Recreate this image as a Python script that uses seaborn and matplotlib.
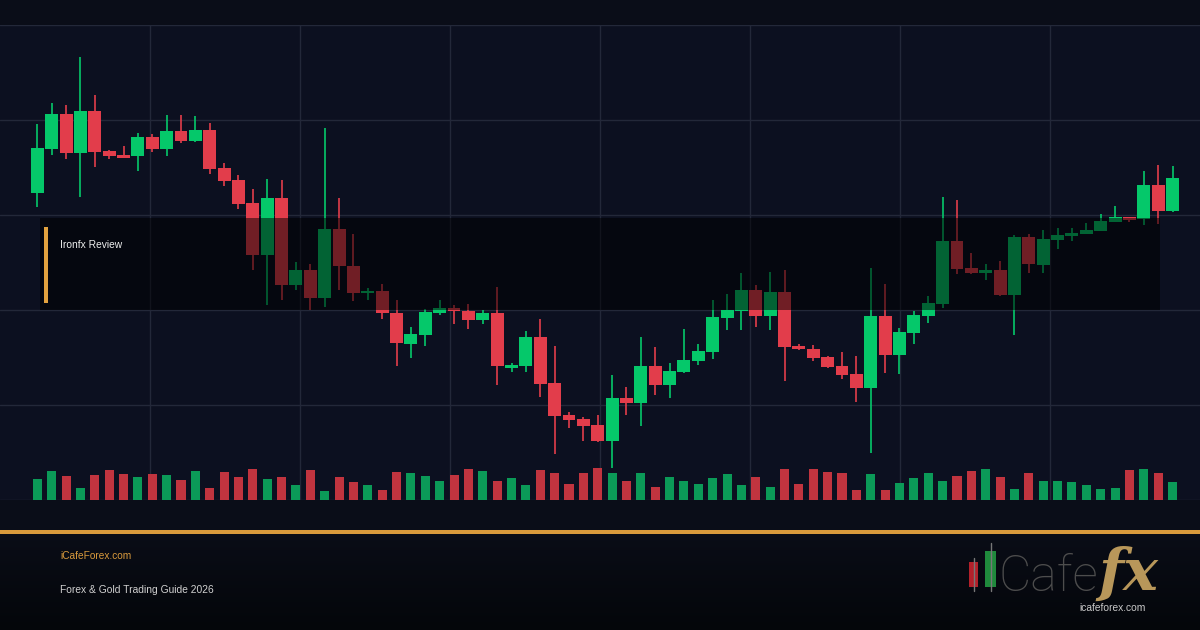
import numpy as np
import matplotlib
matplotlib.use("Agg")
import matplotlib.pyplot as plt
from matplotlib.patches import Rectangle
import seaborn as sns

# OHLC price levels (chart units, 0 = volume baseline)
opens = [307, 351, 386, 347, 389, 349, 345, 344, 363, 351, 369, 359, 370, 332, 320, 297,
         245, 302, 215, 230, 202, 271, 234, 207, 209, 187, 156, 165, 187, 192, 189, 180,
         187, 132, 134, 163, 117, 85, 81, 75, 59, 102, 97, 134, 115, 128, 139, 148,
         182, 189, 210, 184, 208, 154, 151, 143, 134, 126, 112, 184, 145, 167, 184, 196,
         259, 232, 227, 230, 205, 263, 235, 260, 264, 266, 269, 278, 283, 281, 315, 289]
highs = [376, 397, 395, 443, 405, 350, 354, 367, 366, 385, 385, 384, 377, 337, 325, 311,
         321, 320, 238, 236, 372, 302, 266, 212, 216, 200, 173, 191, 200, 195, 196, 190,
         213, 137, 169, 181, 154, 88, 83, 85, 125, 113, 163, 153, 137, 171, 156, 200,
         206, 227, 215, 228, 230, 156, 155, 144, 148, 144, 232, 216, 172, 189, 204, 303,
         300, 247, 236, 239, 265, 266, 270, 272, 272, 277, 286, 294, 283, 329, 335, 334]
lows = [293, 345, 341, 303, 333, 341, 342, 329, 348, 344, 357, 358, 326, 314, 291, 230,
        195, 200, 210, 190, 193, 210, 199, 200, 181, 134, 142, 154, 185, 176, 171, 176,
        115, 128, 128, 103, 46, 72, 59, 58, 32, 85, 74, 105, 102, 127, 135, 141,
        170, 170, 173, 170, 119, 150, 139, 132, 121, 98, 47, 127, 126, 156, 177, 192,
        226, 226, 220, 204, 165, 227, 227, 251, 259, 266, 269, 278, 278, 275, 276, 288]
closes = [352, 386, 347, 389, 348, 344, 342, 363, 351, 369, 359, 370, 331, 319, 296, 245,
          302, 215, 230, 202, 271, 234, 207, 209, 187, 157, 166, 188, 192, 189, 180, 187,
          134, 135, 163, 116, 84, 80, 74, 59, 102, 97, 134, 115, 129, 140, 149, 183,
          190, 210, 184, 208, 153, 151, 142, 133, 125, 112, 184, 145, 168, 185, 197, 259,
          231, 227, 230, 205, 263, 236, 261, 265, 267, 270, 279, 283, 280, 315, 289, 322]
volumes = [21, 29, 24, 12, 25, 30, 26, 23, 26, 25, 20, 29, 12, 28, 23, 31, 21, 23, 15, 30,
           9, 23, 18, 15, 10, 28, 27, 24, 19, 25, 31, 29, 19, 22, 15, 30, 27, 16, 27, 32,
           27, 19, 27, 13, 23, 19, 16, 22, 26, 15, 23, 13, 31, 16, 31, 28, 27, 10, 26, 10,
           17, 22, 27, 19, 24, 29, 31, 23, 11, 27, 19, 19, 18, 15, 11, 12, 30, 31, 27, 18]

title = "Ironfx Review"
site = "iCafeForex.com"
subtitle = "Forex & Gold Trading Guide 2026"

W, H = 1200, 630
BG = "#0a0d18"
PANEL = "#0c1020"
GRID = "#232839"
UP, DOWN = "#05c86a", "#e23d4b"
VUP, VDOWN = "#0b9a58", "#c1343f"
GOLD = "#d99a3c"

sns.set_theme(style="dark")
plt.rcParams["font.family"] = ["Liberation Sans", "DejaVu Sans"]

n = len(opens)
idx = np.arange(n)
direction = ["up" if c >= o else "down" for o, c in zip(opens, closes)]

fig = plt.figure(figsize=(W / 100, H / 100), dpi=100, facecolor=BG)


def fx(px):
    return px / W


def fy(py):
    return 1 - py / H


# footer gradient
foot = fig.add_axes([0, 0, 1, fy(533)])
foot.imshow(np.linspace(0, 1, 100).reshape(-1, 1), aspect="auto", extent=(0, 1, 0, 1),
            cmap=matplotlib.colors.LinearSegmentedColormap.from_list("f", ["#0a0d17", "#04060a"]))
foot.axis("off")

# grid panel
panel_rect = [0, fy(500), 1, (500 - 25) / H]
grid_ax = fig.add_axes(panel_rect)
grid_ax.set_facecolor(PANEL)
grid_ax.set_xlim(0, 8)
grid_ax.set_ylim(0, 5)
grid_ax.set_xticks(range(1, 8))
grid_ax.set_yticks(range(6))
grid_ax.grid(True, color=GRID, lw=1)
grid_ax.tick_params(length=0, labelbottom=False, labelleft=False)
for s in grid_ax.spines.values():
    s.set_visible(False)

# candles + volume
ax = fig.add_axes(panel_rect)
ax.set_facecolor("none")
sns.barplot(x=idx, y=volumes, hue=direction, palette={"up": VUP, "down": VDOWN},
            width=0.63, dodge=False, legend=False, saturation=1, linewidth=0, ax=ax)
colors = [UP if d == "up" else DOWN for d in direction]
ax.vlines(idx, lows, highs, colors=colors, lw=1.2, zorder=3)
bottoms = np.minimum(opens, closes)
heights = np.maximum(np.abs(np.array(closes) - np.array(opens)), 1.5)
ax.bar(idx, heights, bottom=bottoms, width=0.9, color=colors, lw=0, zorder=4)
ax.set_xlim(-37.3 / 14.37, (W - 37.3) / 14.37)
ax.set_ylim(0, 475)
ax.axis("off")

# review label box
fig.add_artist(Rectangle((fx(40), fy(310)), fx(1120), 92 / H, transform=fig.transFigure,
                         facecolor="black", alpha=0.5, lw=0, zorder=5))
fig.add_artist(Rectangle((fx(44), fy(303)), fx(4), 76 / H, transform=fig.transFigure,
                         facecolor="#e3a23f", lw=0, zorder=6))
fig.text(fx(60), fy(245), title, color="#eeeeee", fontsize=7.4, va="center", ha="left", zorder=7)

# footer
fig.add_artist(Rectangle((0, fy(533.5)), 1, 3.5 / H, transform=fig.transFigure,
                         facecolor=GOLD, lw=0, zorder=6))
fig.text(fx(60), fy(556), site, color=GOLD, fontsize=7.3, va="center", ha="left")
fig.text(fx(60), fy(590), subtitle, color="#d0d0d0", fontsize=7.4, va="center", ha="left")

# logo
fig.add_artist(plt.Line2D([fx(973.5), fx(973.5)], [fy(591), fy(558)], transform=fig.transFigure,
                          color="#777777", lw=1))
fig.add_artist(Rectangle((fx(969), fy(587)), fx(9), 25 / H, transform=fig.transFigure,
                         facecolor="#b3202a", lw=0))
fig.add_artist(plt.Line2D([fx(990.5), fx(990.5)], [fy(591), fy(543)], transform=fig.transFigure,
                          color="#777777", lw=1))
fig.add_artist(Rectangle((fx(985), fy(587)), fx(11), 36 / H, transform=fig.transFigure,
                         facecolor="#1f8a3c", lw=0))
fig.text(fx(999), fy(591), "Cafe", color="#4d4d4d", fontsize=36, family="Roboto",
         fontweight="light", va="baseline", ha="left")
fig.text(fx(1098), fy(590), "fx", color="#b8975a", fontsize=42, family="DejaVu Serif",
         fontweight="bold", fontstyle="italic", va="baseline", ha="left")
fig.text(fx(1113), fy(608), "icafeforex.com", color="#c8c8c8", fontsize=7.4, va="center", ha="center")

fig.savefig("out.png", dpi=100, facecolor=BG)
